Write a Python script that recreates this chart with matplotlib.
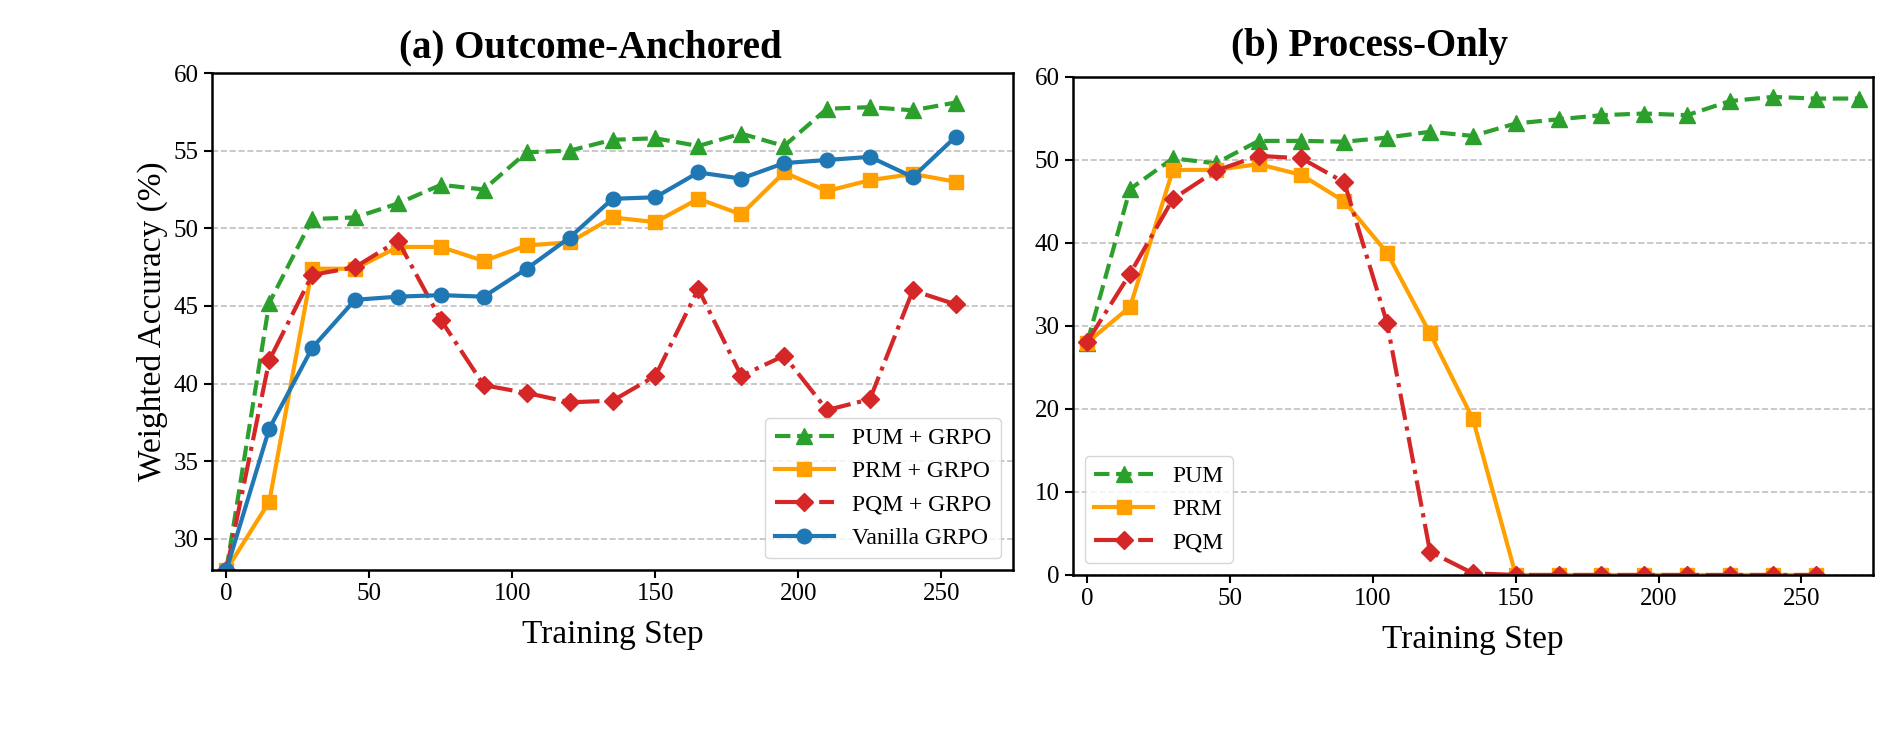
import matplotlib
matplotlib.use("Agg")
import matplotlib.pyplot as plt

plt.rcParams['font.family'] = ['Liberation Serif', 'DejaVu Serif']

# ---- data ----
steps = [0, 15, 30, 45, 60, 75, 90, 105, 120, 135, 150, 165, 180, 195, 210, 225, 240, 255]
steps_long = steps + [270]

# (a) Outcome-Anchored
pum_grpo = [28.0, 45.2, 50.6, 50.7, 51.6, 52.8, 52.5, 54.9, 55.0, 55.7,
            55.8, 55.3, 56.1, 55.3, 57.7, 57.8, 57.6, 58.1]
prm_grpo = [28.0, 32.4, 47.4, 47.4, 48.8, 48.8, 47.9, 48.9, 49.1, 50.7,
            50.4, 51.9, 50.9, 53.6, 52.4, 53.1, 53.5, 53.0]
pqm_grpo = [28.0, 41.5, 47.0, 47.5, 49.2, 44.1, 39.9, 39.4, 38.8, 38.9,
            40.5, 46.1, 40.5, 41.8, 38.3, 39.0, 46.0, 45.1]
vanilla_grpo = [28.0, 37.1, 42.3, 45.4, 45.6, 45.7, 45.6, 47.4, 49.4, 51.9,
                52.0, 53.6, 53.2, 54.2, 54.4, 54.6, 53.3, 55.9]

# (b) Process-Only
pum = [28.0, 46.5, 50.2, 49.6, 52.3, 52.3, 52.2, 52.7, 53.4, 52.9,
       54.4, 54.9, 55.4, 55.6, 55.4, 57.1, 57.6, 57.4, 57.4]
prm = [28.0, 32.3, 48.8, 48.8, 49.5, 48.2, 45.0, 38.8, 29.1, 18.8,
       0.0, 0.0, 0.0, 0.0, 0.0, 0.0, 0.0, 0.0]
pqm = [28.1, 36.3, 45.3, 48.7, 50.5, 50.2, 47.3, 30.3, 2.8, 0.2,
       0.0, 0.0, 0.0, 0.0, 0.0, 0.0, 0.0, 0.0]

green, orange, red, blue = '#2ca02c', '#ffa000', '#d62728', '#1f77b4'

fig = plt.figure(figsize=(18.8, 7.36), dpi=100)
ax1 = fig.add_axes([0.1128, 0.2255, 0.4260, 0.6753])
ax2 = fig.add_axes([0.5707, 0.2188, 0.4255, 0.6766])

lw, ms = 3.0, 10.5

# === (a) ===
ax1.plot(steps, pum_grpo, '--', color=green, marker='^', lw=lw, ms=ms + 1, label='PUM + GRPO')
ax1.plot(steps, prm_grpo, '-', color=orange, marker='s', lw=lw, ms=ms, label='PRM + GRPO')
ax1.plot(steps, pqm_grpo, '-.', color=red, marker='D', lw=lw, ms=ms - 1, label='PQM + GRPO')
ax1.plot(steps, vanilla_grpo, '-', color=blue, marker='o', lw=lw, ms=ms, label='Vanilla GRPO')
ax1.set_ylim(28, 60)
ax1.set_yticks([30, 35, 40, 45, 50, 55, 60])
ax1.set_ylabel('Weighted Accuracy (%)', fontsize=24)
ax1.set_title('(a) Outcome-Anchored', fontsize=28, fontweight='bold', x=0.472, pad=11)
ax1.legend(loc='lower right', fontsize=17, handlelength=2.5, framealpha=0.8)

# === (b) ===
ax2.plot(steps_long, pum, '--', color=green, marker='^', lw=lw, ms=ms + 1, label='PUM')
ax2.plot(steps, prm, '-', color=orange, marker='s', lw=lw, ms=ms, label='PRM')
ax2.plot(steps, pqm, '-.', color=red, marker='D', lw=lw, ms=ms - 1, label='PQM')
ax2.set_ylim(0, 60)
ax2.set_yticks([0, 10, 20, 30, 40, 50, 60])
ax2.set_title('(b) Process-Only', fontsize=28, fontweight='bold', x=0.371, pad=15)
ax2.legend(loc='lower left', fontsize=17, handlelength=2.5, framealpha=0.8)

for ax in (ax1, ax2):
    ax.set_xlim(-5, 275)
    ax.set_xticks([0, 50, 100, 150, 200, 250])
    ax.set_xlabel('Training Step', fontsize=24, labelpad=10)
    ax.tick_params(labelsize=18, length=6, width=1.5)
    ax.yaxis.grid(True, linestyle='--', color='#b0b0b0', linewidth=1.2, alpha=0.8)
    ax.set_axisbelow(True)
    for s in ax.spines.values():
        s.set_linewidth(1.8)

plt.savefig('out.png', dpi=100)
